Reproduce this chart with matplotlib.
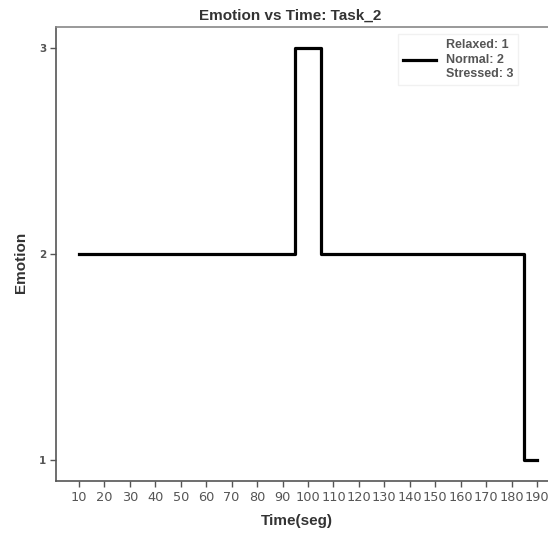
import matplotlib
matplotlib.use("Agg")
import matplotlib.pyplot as plt

time = [10, 20, 30, 40, 50, 60, 70, 80, 90, 100, 110, 120, 130, 140, 150, 160, 170, 180, 190]
emotion = [2, 2, 2, 2, 2, 2, 2, 2, 2, 3, 2, 2, 2, 2, 2, 2, 2, 2, 1]
yticks = [1, 2, 3]
title = "Emotion vs Time: Task_2"
legend_label = "Relaxed: 1\nNormal: 2\nStressed: 3"

fig = plt.figure(figsize=(5.48, 5.33), dpi=100)
W, H = 548, 533
left, right, top, bottom = 56, 560, 27, 481
aw, ah = right - left, bottom - top
ax = fig.add_axes([left / W, 1 - bottom / H, aw / W, ah / H])

ax.plot(time, emotion, drawstyle="steps-mid", color="black", lw=2.3, label=legend_label)
ax.set_xticks(time)
ax.set_yticks(yticks)
ax.set_xlim(1, 199)
ax.set_ylim(0.9, 3.1)

for s in ax.spines.values():
    s.set_color("#555555")
    s.set_linewidth(1.2)
ax.spines["top"].set_color("#888888")
ax.tick_params(axis="both", colors="#555555", labelsize=9.3, length=4, width=1, pad=3)
ax.tick_params(axis="y", labelsize=7.5)
for lbl in ax.get_yticklabels():
    lbl.set_fontweight("bold")

lab_font = dict(family="Liberation Sans", fontsize=11, fontweight="bold", color="#333333")
ax.set_title(title, x=(290 - left) / aw, pad=5, **lab_font)
ax.set_xlabel("Time(seg)", **lab_font)
ax.xaxis.set_label_coords((297 - left) / aw, -(514 - bottom) / ah)
ax.set_ylabel("Emotion", **lab_font)
ax.yaxis.set_label_coords(-(28) / aw, 1 - (262 - top) / ah)

leg = ax.legend(loc="upper left", bbox_to_anchor=((398 - left) / aw, 1 - (34 - top) / ah),
                prop={"family": "Liberation Sans", "size": 9, "weight": "bold"},
                frameon=True, fancybox=False, borderaxespad=0,
                handlelength=2.6, borderpad=0.4, handletextpad=0.8)
leg.get_frame().set_edgecolor("#eeeeee")
for t in leg.get_texts():
    t.set_color("#555555")
    t.set_multialignment("left")
    t.set_linespacing(1.3)

fig.savefig("out.png", dpi=100)
